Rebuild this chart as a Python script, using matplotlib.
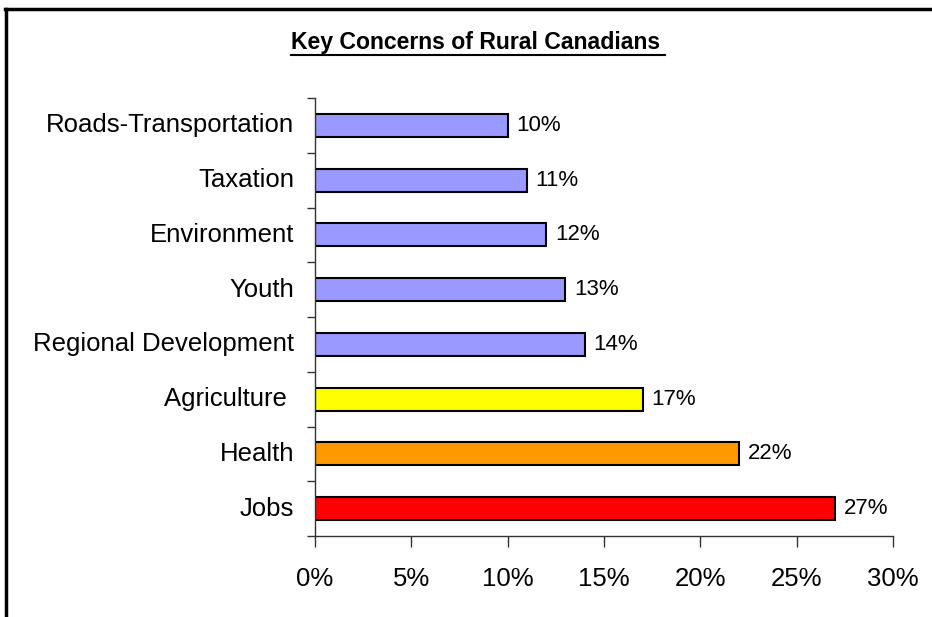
import matplotlib
matplotlib.use("Agg")
import matplotlib.pyplot as plt
from matplotlib.lines import Line2D
from matplotlib.ticker import FixedLocator, FuncFormatter

plt.rcParams["font.family"] = ["Liberation Sans", "DejaVu Sans"]

# 從下到上排列（barh 由底部開始）
concerns = ["Jobs", "Health", "Agriculture ", "Regional Development", "Youth",
            "Environment", "Taxation", "Roads-Transportation"]
shares = [27, 22, 17, 14, 13, 12, 11, 10]
bar_colors = ["#FF0000", "#FF9900", "#FFFF00", "#9999FF", "#9999FF",
              "#9999FF", "#9999FF", "#9999FF"]
x_ticks = [0, 5, 10, 15, 20, 25, 30]

fig = plt.figure(figsize=(9.32, 6.17), dpi=100)
ax = fig.add_axes([315 / 932, 1 - 536 / 617, 578 / 932, 438 / 617])

pos = list(range(len(concerns)))
ax.barh(pos, shares, height=0.42, color=bar_colors, edgecolor="black", linewidth=1.5)

for y, v in zip(pos, shares):
    ax.text(v + 0.45, y, f"{v}%", va="center", ha="left", fontsize=16)

ax.set_xlim(0, 30)
ax.set_ylim(-0.5, len(concerns) - 0.5)
ax.set_xticks(x_ticks)
ax.xaxis.set_major_formatter(FuncFormatter(lambda x, _: f"{x:.0f}%"))

# 類別標籤置中，刻度線放在類別之間
ax.set_yticks(pos)
ax.set_yticklabels(concerns, fontsize=18.5, va="center")
ax.yaxis.set_minor_locator(FixedLocator([p - 0.5 for p in pos] + [len(pos) - 0.5]))
ax.tick_params(axis="y", which="major", length=0, pad=15)
ax.tick_params(axis="y", which="minor", length=6, width=1, color="#333333")
ax.tick_params(axis="x", length=8, width=1, color="#333333", labelsize=18.5, pad=14)

for side in ("top", "right"):
    ax.spines[side].set_visible(False)
for side in ("left", "bottom"):
    ax.spines[side].set_color("#333333")
    ax.spines[side].set_linewidth(1)

# 標題加底線
title = fig.text(476 / 932, 1 - 43 / 617, "Key Concerns of Rural Canadians",
                 ha="center", va="center", fontsize=16.6, fontweight="bold")
fig.canvas.draw()
bb = title.get_window_extent().transformed(fig.transFigure.inverted())
fig.add_artist(Line2D([bb.x0, bb.x1 + 4 / 932], [1 - 55 / 617, 1 - 55 / 617],
                      transform=fig.transFigure, color="black", linewidth=1.5))

# 外框：上方與左側
fig.add_artist(Line2D([5 / 932, 1], [1 - 9 / 617, 1 - 9 / 617],
                      transform=fig.transFigure, color="black", linewidth=2.5))
fig.add_artist(Line2D([6 / 932, 6 / 932], [0, 1 - 9 / 617],
                      transform=fig.transFigure, color="black", linewidth=2.5))

fig.savefig("out.png", dpi=100)
plt.close(fig)
